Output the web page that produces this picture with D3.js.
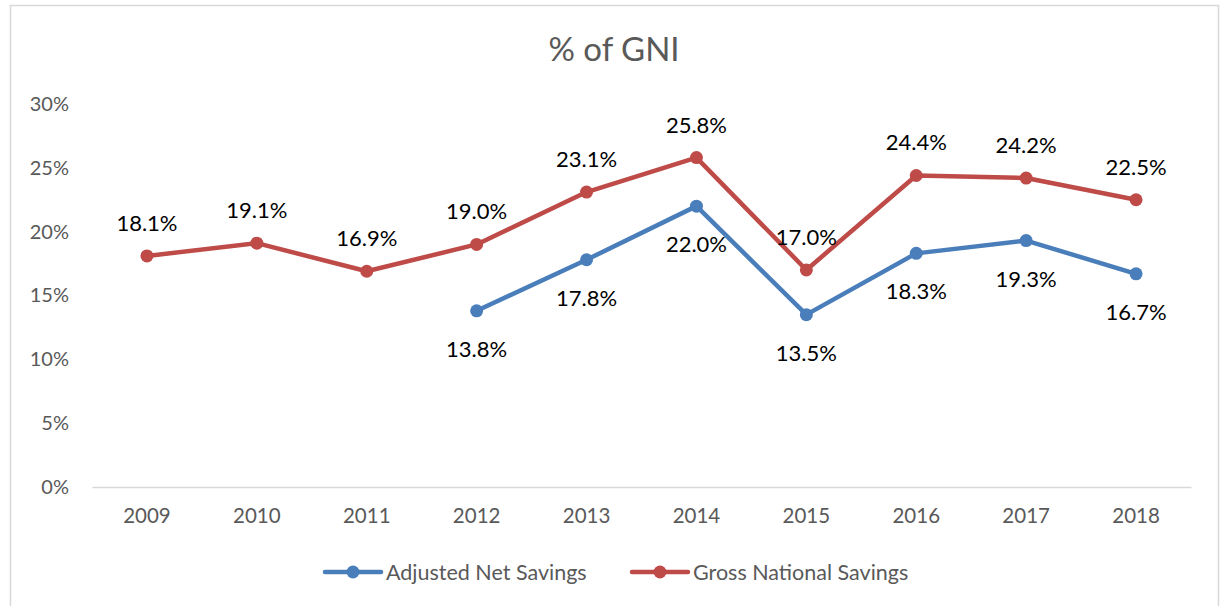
<!DOCTYPE html>
<html><head><meta charset="utf-8">
<script src="https://cdn.jsdelivr.net/npm/d3@7"></script>
<style>body{margin:0;background:#fff;} text{font-family:Lato,"Open Sans",sans-serif;}</style>
</head><body>
<svg id="c" width="1221" height="606"></svg>
<script>
const years = ["2009","2010","2011","2012","2013","2014","2015","2016","2017","2018"];
const adjustedNet = [null,null,null,13.8,17.8,22.0,13.5,18.3,19.3,16.7];
const grossNational = [18.1,19.1,16.9,19.0,23.1,25.8,17.0,24.4,24.2,22.5];
const yTicks = [0,5,10,15,20,25,30];
const seriesNames = ["Adjusted Net Savings","Gross National Savings"];
const colors = ["#4a7ebb","#be4b48"];

const svg = d3.select("#c");
svg.append("rect").attr("x",10.5).attr("y",5.5).attr("width",1208).attr("height",620)
  .attr("fill","#fff").attr("stroke","#d9d9d9").attr("stroke-width",1.5);

const x = d3.scaleBand().domain(years).range([92,1191]);
const y = d3.scaleLinear().domain([0,30]).range([487,104]);

svg.append("text").attr("x",614).attr("y",61).attr("text-anchor","middle")
  .attr("font-size",33).attr("fill","#595959").text("% of GNI");

const ya = svg.append("g").attr("transform","translate(79,0)")
  .call(d3.axisLeft(y).tickValues(yTicks).tickSize(0).tickPadding(10).tickFormat(d=>d+"%"));
ya.select(".domain").remove();
ya.selectAll("text").attr("font-size",20).attr("fill","#595959").attr("font-family","Lato,sans-serif");

const xa = svg.append("g").attr("transform","translate(0,487)")
  .call(d3.axisBottom(x).tickSize(0).tickPadding(21));
xa.select(".domain").attr("stroke","#d9d9d9").attr("stroke-width",1.5);
xa.selectAll("text").attr("font-size",20.5).attr("fill","#595959").attr("font-family","Lato,sans-serif");

const cx = d => x.bandwidth()/2 + x(d);
const data = [adjustedNet, grossNational];
data.forEach((vals,i)=>{
  const pts = years.map((yr,j)=>({yr,v:vals[j]})).filter(p=>p.v!==null);
  svg.append("path").datum(pts)
    .attr("d",d3.line().x(p=>cx(p.yr)).y(p=>y(p.v)))
    .attr("fill","none").attr("stroke",colors[i]).attr("stroke-width",4.5)
    .attr("stroke-linejoin","round").attr("stroke-linecap","round");
  svg.selectAll(null).data(pts).enter().append("circle")
    .attr("cx",p=>cx(p.yr)).attr("cy",p=>y(p.v)).attr("r",6.5).attr("fill",colors[i]);
  svg.selectAll(null).data(pts).enter().append("text")
    .attr("x",p=>cx(p.yr)).attr("y",p=>y(p.v)+(i===0?46:-25))
    .attr("text-anchor","middle").attr("font-size",22).attr("fill","#000")
    .text(p=>p.v.toFixed(1)+"%");
});

// legend
const legX = [325,632];
seriesNames.forEach((n,i)=>{
  const g = svg.append("g");
  g.append("line").attr("x1",legX[i]).attr("x2",legX[i]+56).attr("y1",572).attr("y2",572)
    .attr("stroke",colors[i]).attr("stroke-width",4.5).attr("stroke-linecap","round");
  g.append("circle").attr("cx",legX[i]+28).attr("cy",572).attr("r",6.5).attr("fill",colors[i]);
  g.append("text").attr("x",legX[i]+61).attr("y",580).attr("font-size",21.5).attr("fill","#595959").text(n);
});
</script>
</body></html>
